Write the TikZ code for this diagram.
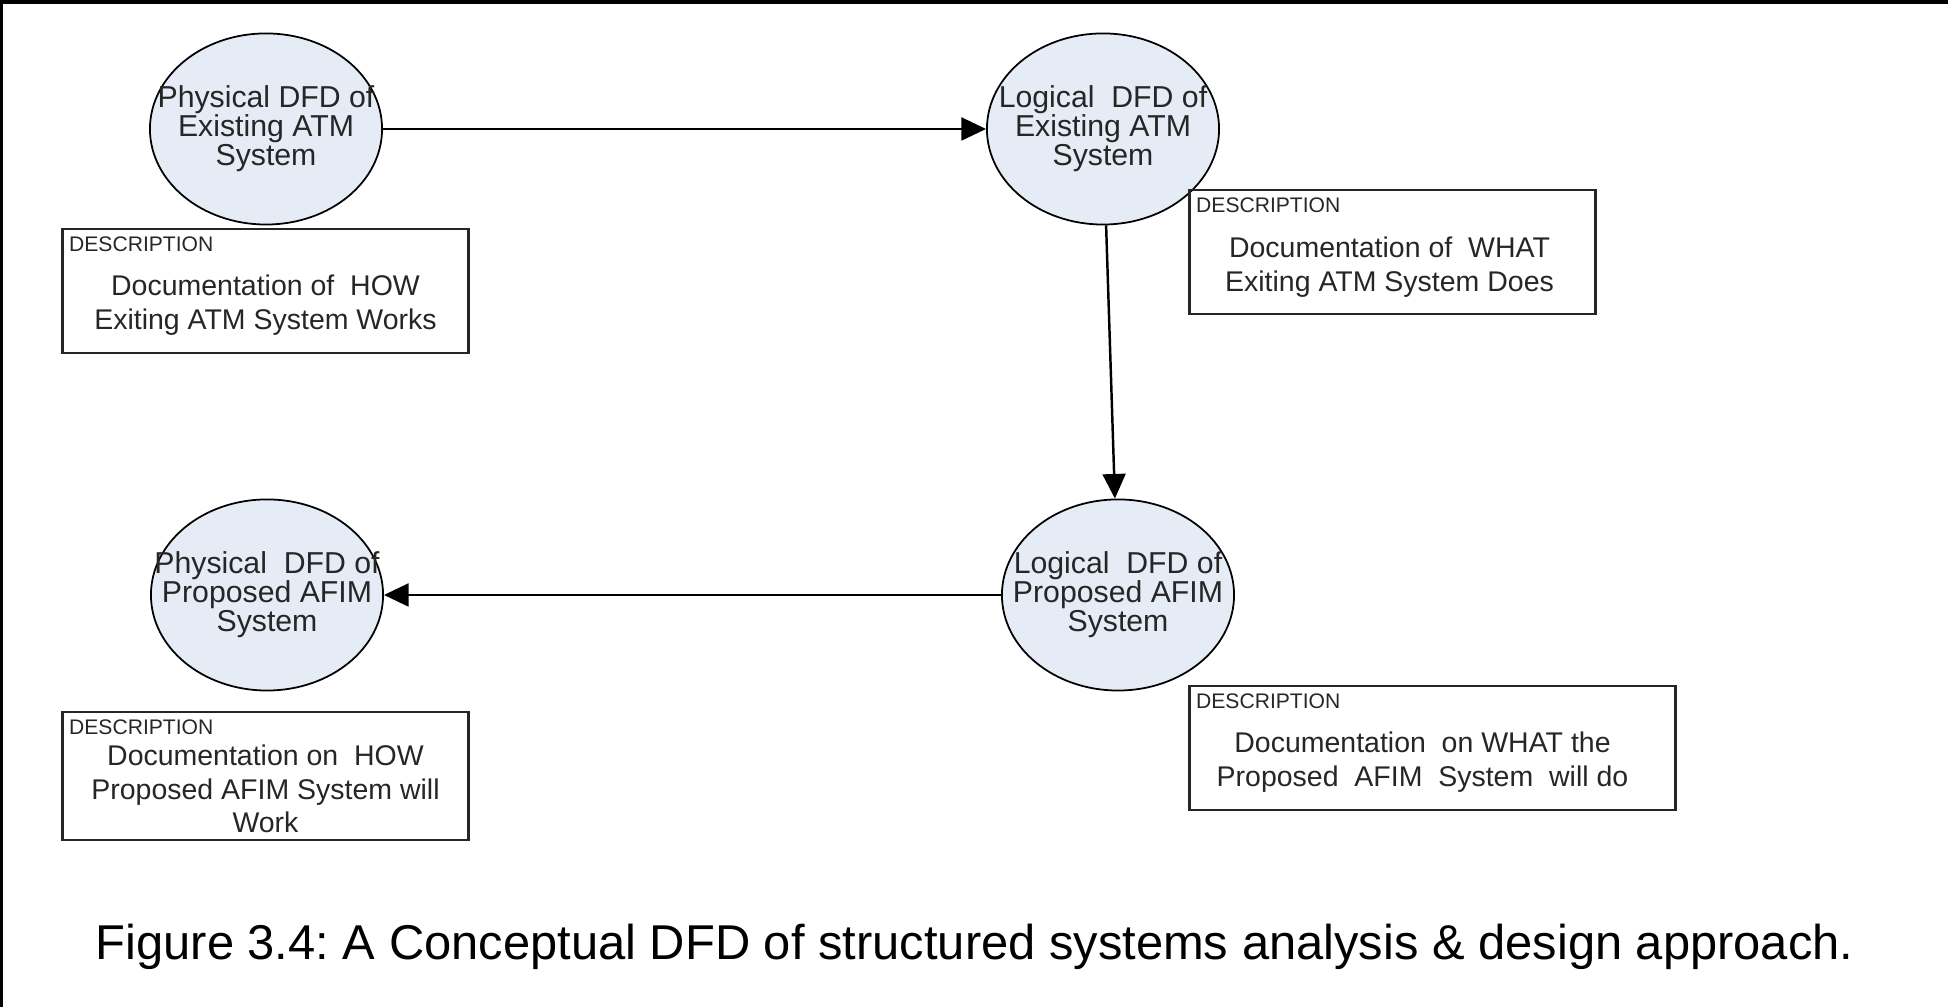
\documentclass[tikz,border=0pt]{standalone}
\usepackage{fontspec}
\setmainfont{Liberation Sans}
\usetikzlibrary{shapes.geometric,arrows.meta,positioning}
\definecolor{bubblefill}{RGB}{230,236,246}
\frenchspacing

\begin{document}
\begin{tikzpicture}[x=0.01cm,y=0.01cm,
    bubble/.style={ellipse, draw=black, line width=0.5pt, fill=bubblefill,
        minimum width=2.32cm, minimum height=1.91cm, inner sep=0pt},
    bubbletext/.style={align=center, inner sep=0pt, text=black!85, font=\fontsize{8.6}{8.3}\selectfont},
    descbox/.style={draw=black!85, line width=0.8pt, minimum width=4.05cm,
        minimum height=1.24cm, inner sep=0pt},
    desclabel/.style={anchor=north west, inner xsep=0.07cm, inner ysep=0.09cm,
        text=black!85, font=\fontsize{6}{7}\selectfont},
    desctext/.style={align=center, text=black!85, font=\fontsize{8.1}{9.5}\selectfont},
    flow/.style={-{Triangle[length=7pt,width=6.5pt]}, line width=0.7pt}]

    % Fix the page size
    \useasboundingbox (0,0) rectangle (1948,1007);

    % Frame lines at the top and on the left
    \draw[line width=0.04cm] (0,1005) -- (1948,1005);
    \draw[line width=0.03cm] (1.5,0) -- (1.5,1007);

    % The four DFD bubbles
    \node[bubble, label={[bubbletext]center:Physical DFD of\\Existing ATM\\System}] (phyold) at (266,878) {};
    \node[bubble, label={[bubbletext]center:Logical\ \ DFD of\\Existing ATM\\System}] (logold) at (1103,878) {};
    \node[bubble, label={[bubbletext]center:Physical\ \ DFD of\\Proposed AFIM\\System}] (phynew) at (267,412) {};
    \node[bubble, label={[bubbletext]center:Logical\ \ DFD of\\Proposed AFIM\\System}] (lognew) at (1118,412) {};

    % Description boxes
    \node[descbox] (descA) at (265.5,716) {};
    \node[descbox] (descB) at (1392.5,755) {};
    \node[descbox, minimum height=1.28cm] (descC) at (265.5,231) {};
    \node[descbox, minimum width=4.85cm] (descD) at (1432.5,259) {};

    \foreach \b in {descA,descB,descC,descD} {
        \node[desclabel] (\b-tag) at (\b.north west) {DESCRIPTION};
    }

    \node[desctext] (textA) at ([yshift=-0.14cm]descA.center) {Documentation of\ \ HOW\\Exiting ATM System Works};
    \node[desctext] (textB) at ([xshift=-0.03cm,yshift=-0.15cm]descB.center) {Documentation of\ \ WHAT\\Exiting ATM System Does};
    \node[desctext] (textC) at ([yshift=-0.13cm]descC.center) {Documentation on\ \ HOW\\Proposed AFIM System will\\Work};
    \node[desctext] (textD) at ([xshift=-0.1cm,yshift=-0.14cm]descD.center) {Documentation\ \ on WHAT the\\Proposed\ \ AFIM\ \ System\ \ will do};

    % Flows between the bubbles
    \draw[flow] (phyold) -- (logold);
    \draw[flow] (logold) -- (lognew);
    \draw[flow] (lognew) -- (phynew);

    % Caption
    \node[anchor=base west, inner sep=0pt, font=\fontsize{13.9}{16}\selectfont] (caption) at (95,47)
        {Figure 3.4: A Conceptual DFD of structured systems analysis \& design approach.};
\end{tikzpicture}
\end{document}
